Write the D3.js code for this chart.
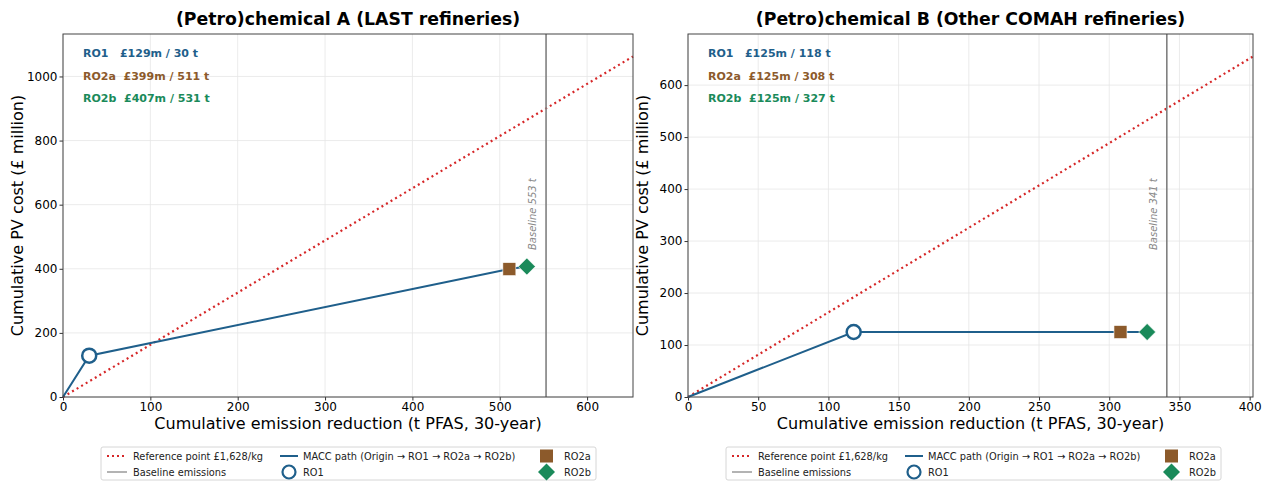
<!DOCTYPE html>
<html><head><meta charset="utf-8">
<script src="https://cdn.jsdelivr.net/npm/d3@7"></script>
<style>
body{margin:0;background:#fff;font-family:"DejaVu Sans",sans-serif;}
</style></head>
<body><svg id="chart" width="1271" height="481"></svg>
<script>
// Panel metadata
const panelTitles = ["(Petro)chemical A (LAST refineries)", "(Petro)chemical B (Other COMAH refineries)"];
const baselines = [553, 341];
const refCostPerTonne = 1.628; // £m per tonne (= £1,628/kg)
const optionNames = ["RO1", "RO2a", "RO2b"];
// Cumulative reduction (t) and cost (£m) per option
const reductionA = [30, 511, 531];
const costA = [129, 399, 407];
const reductionB = [118, 308, 327];
const costB = [125, 125, 125];
const xTicksA = [0, 100, 200, 300, 400, 500, 600];
const yTicksA = [0, 200, 400, 600, 800, 1000];
const xTicksB = [0, 50, 100, 150, 200, 250, 300, 350, 400];
const yTicksB = [0, 100, 200, 300, 400, 500, 600];

const colors = {RO1: "#1f5f8b", RO2a: "#8c5a2b", RO2b: "#1a8a5a", ref: "#d62728", base: "#808080", path: "#1f5f8b"};
const svg = d3.select("#chart");

const panels = [
  {title: panelTitles[0], base: baselines[0], xs: reductionA, ys: costA, xt: xTicksA, yt: yTicksA, left: 63, right: 633, legX: 101},
  {title: panelTitles[1], base: baselines[1], xs: reductionB, ys: costB, xt: xTicksB, yt: yTicksB, left: 688, right: 1253, legX: 726}
];
const plotTop = 34, plotBottom = 397;

panels.forEach(p => {
  const xMax = p.base * 1.18;
  const yMax = refCostPerTonne * xMax * 1.066;
  const x = d3.scaleLinear().domain([0, xMax]).range([p.left, p.right]);
  const y = d3.scaleLinear().domain([0, yMax]).range([plotBottom, plotTop]);
  const g = svg.append("g");

  // grid
  g.selectAll(".gx").data(p.xt).join("line")
    .attr("x1", d => x(d)).attr("x2", d => x(d)).attr("y1", plotTop).attr("y2", plotBottom)
    .attr("stroke", "#e6e6e6").attr("stroke-width", 0.8);
  g.selectAll(".gy").data(p.yt).join("line")
    .attr("x1", p.left).attr("x2", p.right).attr("y1", d => y(d)).attr("y2", d => y(d))
    .attr("stroke", "#e6e6e6").attr("stroke-width", 0.8);

  // axes
  const fmt = d3.format("d");
  const xa = g.append("g").attr("transform", `translate(0,${plotBottom})`)
    .call(d3.axisBottom(x).tickValues(p.xt).tickFormat(fmt).tickSize(3.5).tickPadding(2));
  const ya = g.append("g").attr("transform", `translate(${p.left},0)`)
    .call(d3.axisLeft(y).tickValues(p.yt).tickFormat(fmt).tickSize(3.5).tickPadding(2));
  [xa, ya].forEach(a => {
    a.select(".domain").remove();
    a.selectAll("text").attr("font-family", "DejaVu Sans").attr("font-size", 12).attr("fill", "#000");
    a.selectAll("line").attr("stroke", "#333");
  });

  // reference cost line
  g.append("line")
    .attr("x1", x(0)).attr("y1", y(0)).attr("x2", x(xMax)).attr("y2", y(refCostPerTonne * xMax))
    .attr("stroke", colors.ref).attr("stroke-width", 2.2).attr("stroke-dasharray", "2,3.3");

  // baseline emissions
  g.append("line")
    .attr("x1", x(p.base)).attr("x2", x(p.base)).attr("y1", plotTop).attr("y2", plotBottom)
    .attr("stroke", colors.base).attr("stroke-width", 1.6);
  const bx = x(p.base) - 10, by = 250;
  g.append("text").attr("transform", `translate(${bx},${by}) rotate(-90)`)
    .attr("font-size", 10).attr("font-style", "italic").attr("fill", "#888")
    .text(`Baseline ${p.base} t`);

  // MACC path
  const pts = [[0, 0]].concat(p.xs.map((v, i) => [v, p.ys[i]]));
  g.append("path").datum(pts)
    .attr("d", d3.line().x(d => x(d[0])).y(d => y(d[1])))
    .attr("fill", "none").attr("stroke", colors.path).attr("stroke-width", 2);

  // markers
  g.append("circle").attr("cx", x(p.xs[0])).attr("cy", y(p.ys[0])).attr("r", 7)
    .attr("fill", "#fff").attr("stroke", colors.RO1).attr("stroke-width", 2.5);
  g.append("rect").attr("x", x(p.xs[1]) - 6.5).attr("y", y(p.ys[1]) - 6.5).attr("width", 13).attr("height", 13)
    .attr("fill", colors.RO2a).attr("stroke", "#fff").attr("stroke-width", 0.6);
  g.append("path").attr("transform", `translate(${x(p.xs[2])},${y(p.ys[2])}) rotate(45)`)
    .attr("d", "M-6,-6H6V6H-6Z").attr("fill", colors.RO2b).attr("stroke", "#fff").attr("stroke-width", 0.6);

  // frame
  g.append("rect").attr("x", p.left).attr("y", plotTop).attr("width", p.right - p.left).attr("height", plotBottom - plotTop)
    .attr("fill", "none").attr("stroke", "#444").attr("stroke-width", 1);

  // option annotations
  optionNames.forEach((n, i) => {
    const pad = n === "RO1" ? "\u00a0\u00a0 " : "\u00a0 ";
    g.append("text").attr("x", p.left + 20).attr("y", plotTop + 23 + i * 22.5)
      .attr("font-size", 11).attr("font-weight", "bold").attr("fill", colors[n])
      .text(`${n}${pad}£${p.ys[i]}m / ${p.xs[i]} t`);
  });

  // title & axis labels
  const cx = (p.left + p.right) / 2;
  svg.append("text").attr("x", cx).attr("y", 25).attr("text-anchor", "middle")
    .attr("font-size", 17.3).attr("font-weight", "bold").text(p.title);
  svg.append("text").attr("x", cx).attr("y", 429).attr("text-anchor", "middle")
    .attr("font-size", 16).text("Cumulative emission reduction (t PFAS, 30-year)");
  svg.append("text").attr("transform", `translate(${p.left - 40},${(plotTop + plotBottom) / 2}) rotate(-90)`)
    .attr("text-anchor", "middle").attr("font-size", 16).text("Cumulative PV cost (£ million)");

  // legend
  const lg = svg.append("g").attr("transform", `translate(${p.legX},447)`);
  lg.append("rect").attr("x", 0).attr("y", 0).attr("width", 495).attr("height", 33).attr("rx", 2)
    .attr("fill", "#fff").attr("stroke", "#ccc").attr("stroke-width", 0.8);
  const r1 = 9, r2 = 25;
  lg.append("line").attr("x1", 6).attr("x2", 26).attr("y1", r1).attr("y2", r1)
    .attr("stroke", colors.ref).attr("stroke-width", 1.8).attr("stroke-dasharray", "2,3");
  lg.append("line").attr("x1", 6).attr("x2", 26).attr("y1", r2).attr("y2", r2)
    .attr("stroke", colors.base).attr("stroke-width", 1.2);
  lg.append("line").attr("x1", 179).attr("x2", 197).attr("y1", r1).attr("y2", r1)
    .attr("stroke", colors.path).attr("stroke-width", 2);
  lg.append("circle").attr("cx", 188).attr("cy", r2).attr("r", 6.5)
    .attr("fill", "#fff").attr("stroke", colors.RO1).attr("stroke-width", 2.2);
  lg.append("rect").attr("x", 439).attr("y", r1 - 6.5).attr("width", 13).attr("height", 13).attr("fill", colors.RO2a);
  lg.append("path").attr("transform", `translate(445.5,${r2}) rotate(45)`).attr("d", "M-6,-6H6V6H-6Z").attr("fill", colors.RO2b);
  const labels = [
    [32, r1, "Reference point £1,628/kg"], [32, r2, "Baseline emissions"],
    [202, r1, "MACC path (Origin \u2192 RO1 \u2192 RO2a \u2192 RO2b)"], [202, r2, "RO1"],
    [463, r1, "RO2a"], [463, r2, "RO2b"]
  ];
  labels.forEach(([lx, ly, t]) => lg.append("text").attr("x", lx).attr("y", ly + 3.6)
    .attr("font-size", 9.8).attr("fill", "#222").text(t));
});
</script></body></html>
